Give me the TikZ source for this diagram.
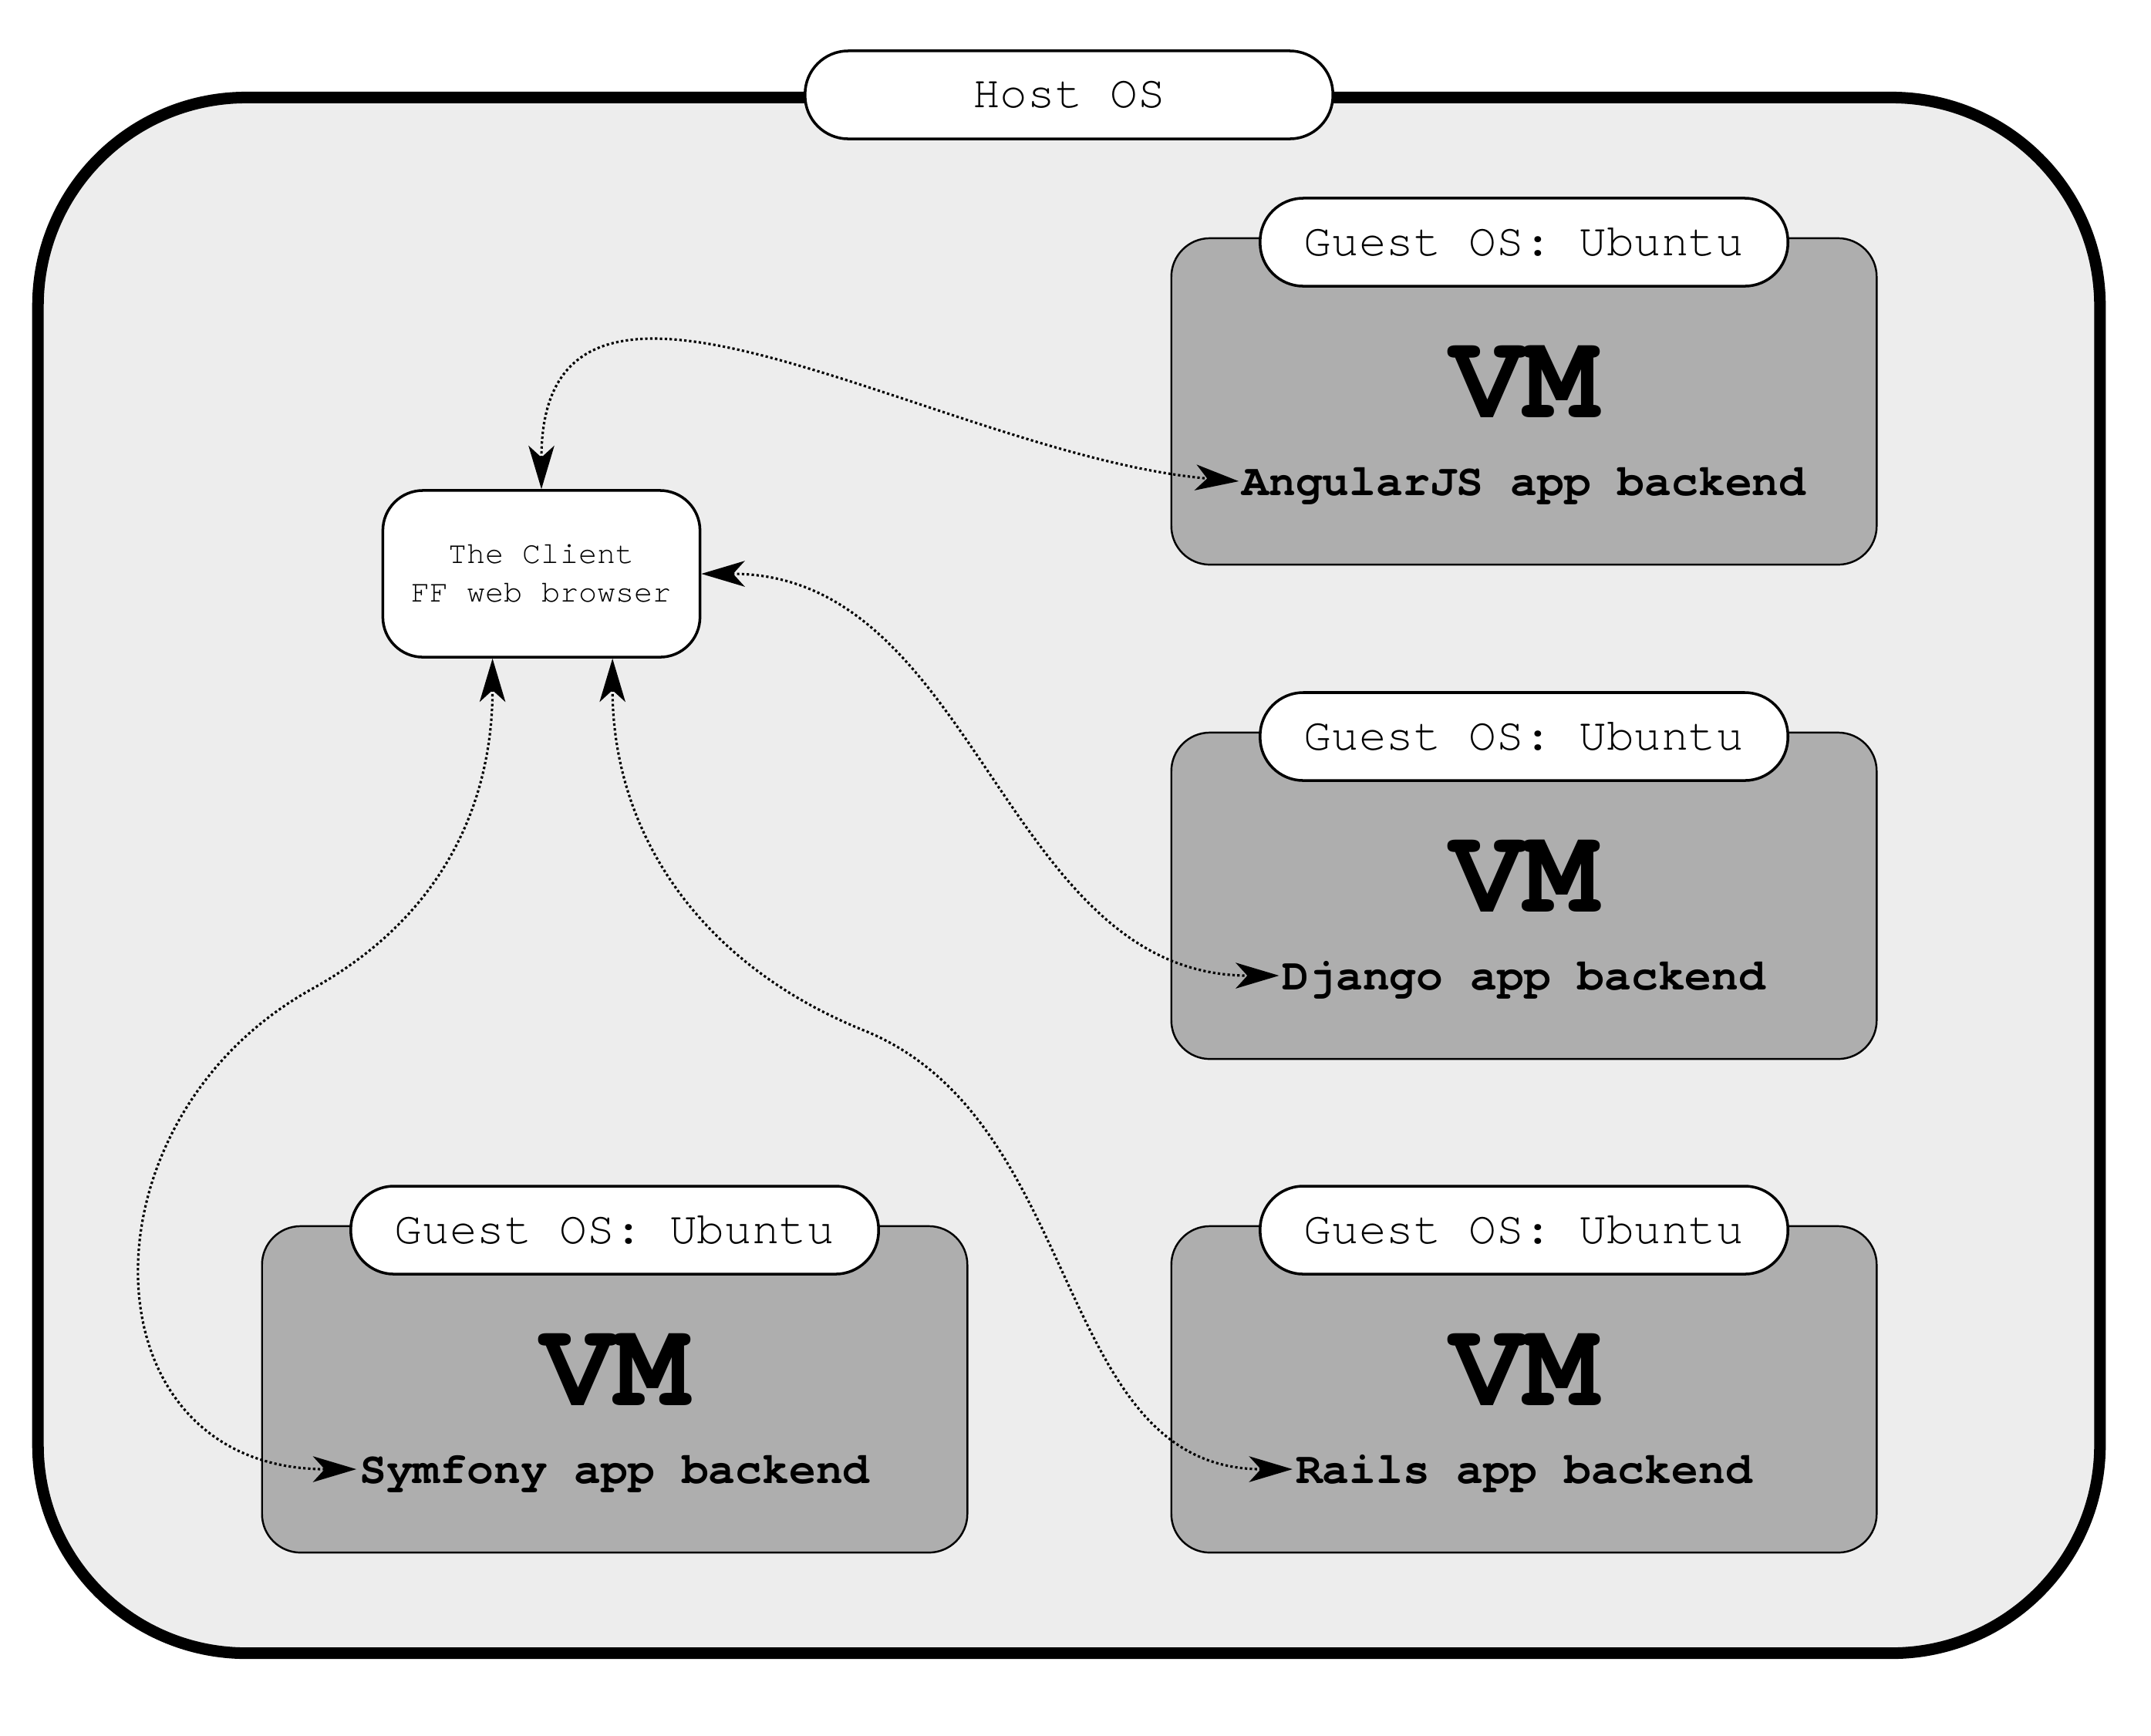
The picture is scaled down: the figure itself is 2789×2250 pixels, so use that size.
\documentclass[tikz,border=0pt]{standalone}
\usepackage{fontspec}
\usetikzlibrary{arrows.meta}
\IfFontExistsTF{TeX Gyre Cursor}{\newfontfamily\cur{TeX Gyre Cursor}}{\newfontfamily\cur{Liberation Mono}}
\definecolor{hostgray}{RGB}{237,237,237}
\definecolor{vmgray}{RGB}{174,174,174}
\tikzset{
  hostbox/.style={draw, line width=4.27pt, fill=hostgray, rounded corners=2.7cm, minimum width=26.72cm, minimum height=20.16cm, inner sep=0pt},
  oslabel/.style={draw, line width=1pt, fill=white, rounded corners=0.56cm, minimum width=6.84cm, minimum height=1.14cm, inner sep=0pt, font=\cur\fontsize{16.9}{20}\selectfont},
  vmbox/.style={draw, line width=0.7pt, fill=vmgray, rounded corners=0.5cm, minimum width=9.14cm, minimum height=4.23cm, inner sep=0pt},
  vmtext/.style={inner sep=0pt, font=\cur\bfseries\fontsize{45.5}{50}\selectfont},
  backend/.style={inner sep=1pt, text depth=0pt, font=\cur\bfseries\fontsize{16.5}{20}\selectfont},
  clientbox/.style={draw, line width=1pt, fill=white, rounded corners=0.52cm, minimum width=4.11cm, minimum height=2.16cm, inner sep=0pt, align=center, font=\cur\fontsize{11.4}{14.2}\selectfont},
  link/.style={line width=0.9pt, dash pattern=on 0.9pt off 0.9pt,
    {Stealth[length=16pt,width=9.5pt,inset=4.3pt]}-{Stealth[length=16pt,width=9.5pt,inset=4.3pt]}}
}
\begin{document}
\begin{tikzpicture}[x=0.01cm, y=-0.01cm]
\useasboundingbox (0,0) rectangle (2789,2250);
\node[hostbox] (host) at (1386,1135) {};
\node[oslabel] (hostlabel) at (1386,123) {Host OS};

% AngularJS VM
\node[vmbox] (vm1) at (1976,520.5) {};
\node[oslabel] (g1) at (1976,314) {Guest OS: Ubuntu};
\node[vmtext] (v1) at (1976,495) {VM};
\node[backend] (b1) at (1976,624) {AngularJS app backend};

% Django VM
\node[vmbox] (vm2) at (1976,1161.5) {};
\node[oslabel] (g2) at (1976,955) {Guest OS: Ubuntu};
\node[vmtext] (v2) at (1976,1136) {VM};
\node[backend] (b2) at (1976,1265) {Django app backend};

% Rails VM
\node[vmbox] (vm3) at (1976,1801.5) {};
\node[oslabel] (g3) at (1976,1595) {Guest OS: Ubuntu};
\node[vmtext] (v3) at (1976,1776) {VM};
\node[backend] (b3) at (1976,1905) {Rails app backend};

% Symfony VM
\node[vmbox] (vm4) at (797,1801.5) {};
\node[oslabel] (g4) at (797,1595) {Guest OS: Ubuntu};
\node[vmtext] (v4) at (797,1776) {VM};
\node[backend] (b4) at (797,1905) {Symfony app backend};

% Client
\node[clientbox] (client) at (702,744) {The Client\\FF web browser};

\coordinate (w1) at (1120,1336);
\coordinate (w2) at (405,1282);

\draw[link] (client.north) to[out=90,in=175,looseness=1.1] (b1.west);
\draw[link] (client.east) to[out=0,in=180] (b2.west);
\draw[link] (client.310) to[out=-90,in=158] (w1) to[out=-22,in=180] (b3.west);
\draw[link] (client.240) to[out=-90,in=29] (w2) to[out=209,in=180,looseness=1.45] (b4.west);
\end{tikzpicture}
\end{document}
